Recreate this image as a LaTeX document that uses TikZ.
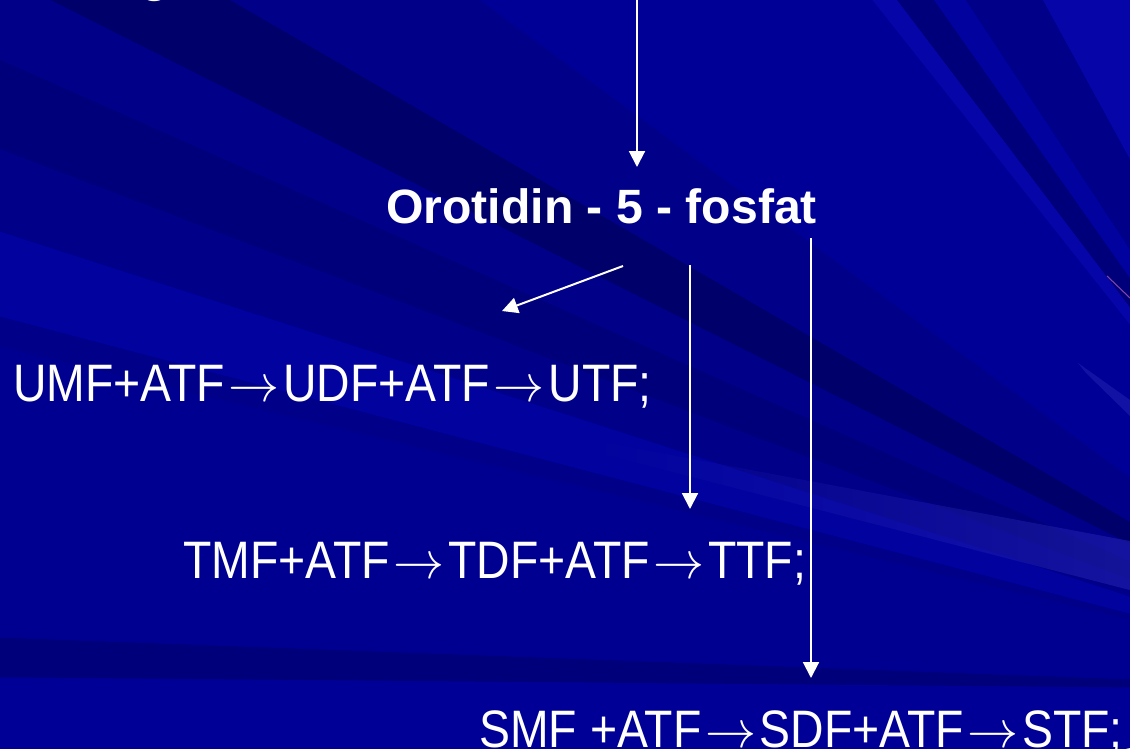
\documentclass[tikz,border=0pt]{standalone}
\usepackage{fontspec}
\setmainfont{Liberation Sans}
\usepackage{graphicx}
\usetikzlibrary{arrows.meta,calc,fadings}
% let the math symbol font scale freely
\DeclareFontShape{OMS}{cmsy}{m}{n}{<->cmsy10}{}

% slide background shades
\definecolor{bgBase}{RGB}{0,0,150}
\definecolor{bgDeep}{RGB}{0,0,106}
\definecolor{bgDark}{RGB}{0,0,122}
\definecolor{bgMid}{RGB}{0,0,137}
\definecolor{bgLight}{RGB}{2,2,158}
\definecolor{bgBright}{RGB}{6,6,168}
\definecolor{rayGlow}{RGB}{40,40,185}
\definecolor{rayLine}{RGB}{130,70,170}

% condensed formula lines
\newcommand\narrowline[1]{\scalebox{0.88}[1]{#1}}
\newcommand\rarr{\hspace{0.08em}\scalebox{1.1}[1]{$\rightarrow$}\hspace{0.08em}}
% one ray of the fan, between slopes #1 and #2, seen from the focus at (1420,690)
\newcommand\bandfill[3]{\fill[#3] (1420,690) -- ++(-3000,{-3000*#1}) -- ++(0,{-3000*(#2-#1)}) -- cycle;}

\begin{document}
\begin{tikzpicture}[x=0.02cm,y=-0.02cm,
  formula/.style={anchor=base west, inner sep=0pt, text=white,
                  font=\fontsize{30}{36}\selectfont},
  headline/.style={anchor=base west, inner sep=0pt, text=white,
                   font=\bfseries\fontsize{27.4}{33}\selectfont},
  flow/.style={draw=white, line width=1.13pt,
               -{Triangle[length=9pt,width=9pt]}}]
\useasboundingbox (0,0) rectangle (1130,748);

% ---- background with light rays ----
\begin{scope}
\clip (0,0) rectangle (1130,748);
\fill[bgBase] (0,0) rectangle (1130,748);
\bandfill{-0.2}{0.009}{bgBase}
\bandfill{0.009}{0.037}{bgDark}
\bandfill{0.037}{0.242}{bgMid!50!bgBase}
\bandfill{0.242}{0.263}{bgMid}
\bandfill{0.263}{0.323}{bgLight}
\bandfill{0.323}{0.381}{bgMid}
\bandfill{0.381}{0.444}{bgDark}
\bandfill{0.444}{0.504}{bgMid}
\bandfill{0.504}{0.580}{bgDeep}
\bandfill{0.580}{0.734}{bgMid}
\bandfill{0.734}{1.260}{bgBase}
\bandfill{1.260}{1.320}{bgBright}
\bandfill{1.320}{1.420}{bgDark}
\bandfill{1.420}{1.520}{bgLight}
\bandfill{1.520}{1.830}{bgMid}
\bandfill{1.830}{3.000}{bgBright}
% glowing ray across the lower right
\fill[rayGlow, path fading=west, opacity=0.5]
  (580,438) -- (1130,541) -- (1130,590) -- (580,448) -- cycle;
\fill[rayGlow, opacity=0.45]
  (1078,363) -- (1130,400) -- (1130,416) -- (1086,373) -- cycle;
\draw[rayLine, line width=0.6pt] (1107,276) -- (1130,298);
\end{scope}

% ---- texts ----
\node[headline] (ttl) at (140,-9) {g};
\node[headline] (oro) at (386,223) {Orotidin - 5 - fosfat};
\node[formula] (umf) at (13,401)
  {\narrowline{UMF+ATF\rarr UDF+ATF\rarr UTF;}};
\node[formula] (tmf) at (183,578)
  {\narrowline{TMF+ATF\rarr TDF+ATF\rarr TTF;}};
\node[formula] (smf) at (479,747)
  {\narrowline{SMF +ATF\rarr SDF+ATF\rarr STF;}};

% ---- connectors ----
\coordinate (feed) at (637,-2);
\draw[flow] (feed) -- ($(oro.base west)+(251,-56)$);
\draw[flow] ($(oro.base west)+(237,43)$) -- ($(umf.base west)+(489,-90)$);
\draw[flow] ($(oro.base west)+(304,42)$) -- ($(tmf.base west)+(507,-69)$);
\draw[flow] ($(oro.base west)+(425,15)$) -- ($(smf.base west)+(332,-69)$);
\end{tikzpicture}
\end{document}
